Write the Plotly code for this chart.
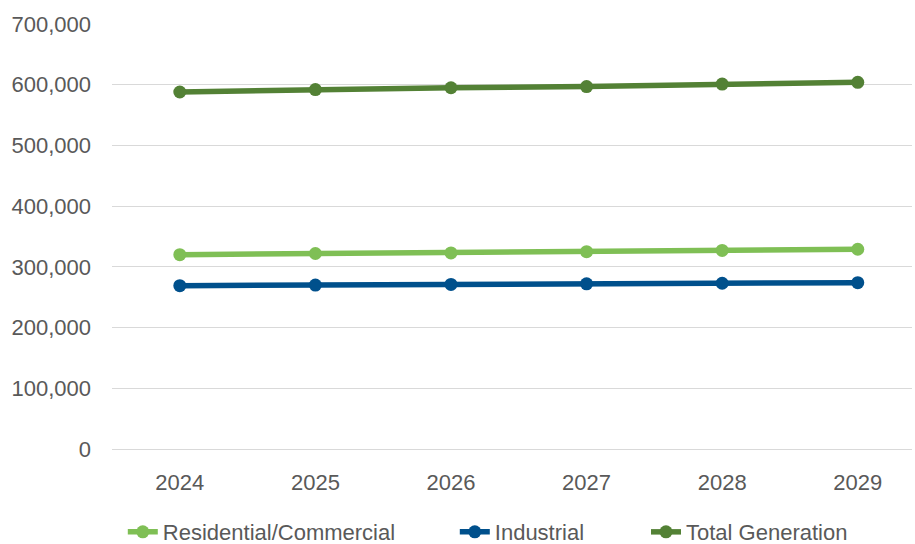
import plotly.graph_objects as go

years = ["2024", "2025", "2026", "2027", "2028", "2029"]
residential = [320000, 322000, 323000, 325000, 327000, 329000]
industrial = [269000, 270000, 271000, 272000, 273000, 274000]
total_generation = [588000, 592000, 595000, 597000, 601000, 604000]

series = [
    ("Residential/Commercial", residential, "#7fbf55", "legend", 0.0135),
    ("Industrial", industrial, "#00508c", "legend2", 0.4285),
    ("Total Generation", total_generation, "#538135", "legend3", 0.6675),
]

FONT = "Liberation Sans, Arial, sans-serif"
GREY = "#595959"
SIZE = 22

fig = go.Figure()
legend_boxes = {}
for name, vals, color, leg, lx in series:
    fig.add_trace(go.Scatter(
        x=years, y=vals, name=name, mode="lines+markers",
        line=dict(color=color, width=5.5),
        marker=dict(color=color, size=13),
        legend=leg,
    ))
    legend_boxes[leg] = dict(orientation="h", x=lx, xanchor="left", y=-0.146,
                             yanchor="top", font=dict(size=SIZE, color=GREY),
                             bgcolor="rgba(0,0,0,0)")

fig.update_layout(
    width=915, height=544,
    margin=dict(l=112, r=3, t=24, b=95, autoexpand=False),
    plot_bgcolor="white", paper_bgcolor="white",
    font=dict(family=FONT, size=SIZE, color=GREY),
    showlegend=True,
    xaxis=dict(range=[-0.5, 5.4], showgrid=False, showline=False, zeroline=False,
               ticks="", tickfont=dict(size=SIZE, color=GREY), ticklabelstandoff=18),
    yaxis=dict(range=[0, 700000], dtick=100000, tickformat=",d",
               showgrid=True, gridcolor="#d9d9d9", gridwidth=1,
               zeroline=True, zerolinecolor="#d9d9d9", zerolinewidth=1,
               showline=False, ticks="", tickfont=dict(size=SIZE, color=GREY),
               ticklabelstandoff=20),
    **legend_boxes,
)

fig.write_html("out.html")
